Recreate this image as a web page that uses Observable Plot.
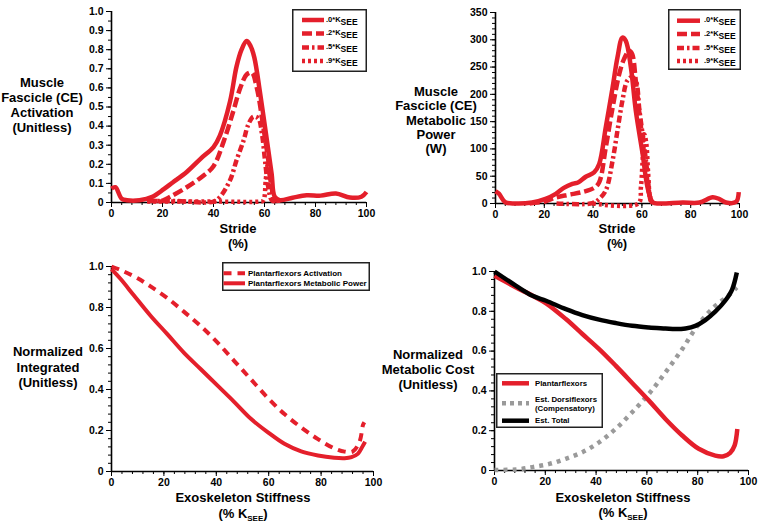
<!DOCTYPE html>
<html><head><meta charset="utf-8">
<script src="https://cdn.jsdelivr.net/npm/d3@7"></script>
<script src="https://cdn.jsdelivr.net/npm/@observablehq/plot@0.6"></script>
<style>
body{margin:0;background:#fff;}
#root{position:relative;width:764px;height:531px;overflow:hidden;font-family:"Liberation Sans",Arial,sans-serif;color:#000;background:#fff;}
.panel{position:absolute;}
.lbl{position:absolute;text-align:center;font-size:13px;font-weight:bold;white-space:nowrap;width:160px;}
.sub{font-size:8px;position:relative;top:3px;}
.leg{position:absolute;overflow:visible;}
</style>
</head><body><div id="root"></div>
<script>
// ---------- DATA ----------
// Panel A: muscle fascicle activation vs stride (%)
const act0 = [[0,0.073],[1.5,0.08],[4,0.02],[6,0.012],[11,0.012],[16,0.03],[20.5,0.07],[24,0.105],[29.5,0.16],[35,0.23],[40,0.29],[42.5,0.35],[46.5,0.53],[49,0.71],[51,0.8],[53,0.845],[54.5,0.82],[56,0.76],[58.3,0.57],[61,0.32],[62.8,0.15],[64,0.03],[66,0.012],[71,0.025],[76.5,0.038],[82,0.036],[88,0.047],[93.5,0.026],[98,0.03],[100,0.055]];
const act2 = [[14,0.01],[20,0.01],[23,0.03],[29.5,0.08],[36,0.14],[40,0.19],[44,0.32],[47.8,0.48],[50.5,0.6],[53,0.67],[55,0.68],[57,0.6],[59.6,0.39],[61.5,0.22],[62.8,0.08],[64,0.015],[66,0.012]];
const act5 = [[14,0.008],[25,0.008],[40,0.005],[42.6,0.03],[46.5,0.117],[49,0.22],[51.8,0.325],[53.7,0.41],[55.7,0.45],[57.6,0.44],[59,0.36],[60.2,0.22],[61.5,0.08],[63,0.01],[66,0.01]];
const act9 = [[14,0.005],[40,0.005],[58,0.005],[59.5,0.01],[60.5,0.12],[61.3,0.2],[62,0.15],[63,0.06],[64,0.01],[66,0.01]];
// Panel B: muscle fascicle metabolic power (W) vs stride (%)
const pow0 = [[0,22.5],[1.4,18],[4,2.4],[8,0],[15,1.8],[20.5,8.5],[24.7,17.7],[28,28.6],[31.5,36],[34,39],[37,49],[40.4,57],[42.5,72.5],[45.2,140],[48,213],[50,268],[52,304],[53.4,298],[55.5,249],[57.5,170],[60.3,91],[62.3,30],[64.4,2.4],[67,0],[76.7,1.8],[83.6,1.8],[89,11.6],[91.8,8],[94.5,1.8],[98.6,3],[99.7,20.7]];
const pow2 = [[14,0],[20.5,4],[24.7,11],[30,16],[35.6,21],[40.4,28.6],[42.5,39],[45.2,103],[48,176],[50.7,237],[52.7,265],[54.8,280],[56,274],[57.5,225],[59.6,140],[61.6,66],[63,18],[64.5,0]];
const pow5 = [[25,0],[39.7,0.6],[42.5,8.5],[45.2,24],[48,79],[50,134],[52,188],[54,225],[55.9,232],[57.5,225],[59,170],[61,103],[62.3,54],[63.7,5],[65,0]];
const pow9 = [[40,0],[58.5,0],[59.6,30],[60.3,79],[61,127],[61.8,110],[62.5,60],[63.3,10],[64,0]];
// Panel C: normalized integrated values vs exoskeleton stiffness (% KSEE)
const intAct = [[0,1.0],[4.7,0.976],[9.8,0.944],[14.9,0.903],[21.3,0.846],[27.6,0.78],[34,0.71],[40.4,0.63],[46.8,0.54],[53.2,0.45],[59.6,0.36],[66,0.28],[72.4,0.215],[78.8,0.158],[85,0.113],[89,0.097],[92,0.097],[94.6,0.142],[96,0.227],[96.5,0.24]];
const intPow = [[0,0.987],[3.4,0.94],[8.5,0.86],[14.9,0.76],[21.3,0.67],[27.6,0.58],[34,0.5],[40.4,0.42],[46.8,0.34],[53.2,0.257],[59.6,0.192],[66,0.135],[72.4,0.098],[78.8,0.078],[85,0.067],[89,0.065],[91.6,0.07],[94,0.086],[96,0.127],[96.8,0.145]];
// Panel D: normalized metabolic cost vs exoskeleton stiffness (% KSEE)
const costPlantar = [[0,0.978],[8.5,0.92],[15,0.878],[20.3,0.84],[28.1,0.761],[34.6,0.686],[41.2,0.61],[47.7,0.527],[54.2,0.44],[60.8,0.351],[67.3,0.259],[73.9,0.176],[80.4,0.109],[86.9,0.075],[90.2,0.072],[92.8,0.089],[94.5,0.125],[95.6,0.209]];
const costDorsi = [[0,0.003],[8.5,0.005],[15,0.017],[21.6,0.033],[28,0.059],[34.6,0.092],[41.2,0.142],[47.7,0.209],[54.2,0.293],[60.8,0.385],[67.3,0.493],[73.9,0.61],[80.4,0.736],[87,0.828],[92,0.878],[95.4,0.92]];
const costTotal = [[0,1.0],[8.5,0.928],[15,0.878],[20.3,0.853],[28.1,0.811],[34.6,0.781],[41.2,0.758],[47.7,0.741],[54.2,0.727],[60.8,0.719],[67.3,0.714],[71.2,0.711],[75.2,0.714],[79.1,0.727],[83,0.756],[86.9,0.798],[90.8,0.853],[93.5,0.908],[95.4,0.995]];
// tick values / labels
const xTicks = [0,20,40,60,80,100];
const xMinor = d3.range(0,101,4);
const yTicksA = d3.range(0,1.01,0.1);
const yMinorA = d3.range(0,1.001,0.05);
const yTicksB = d3.range(0,351,50);
const yMinorB = d3.range(0,351,10);
const yTicksC = [0,0.2,0.4,0.6,0.8,1.0];
const yMinorC = d3.range(0,1.001,0.04);
const stiffLabels = [".0*K", ".2*K", ".5*K", ".9*K"];

// ---------- STYLE ----------
const RED = "#e41f2b", GRAY = "#9a9a9a", BLACK = "#000";
const dashes = [null, "10,4", "7,3,2.5,3", "3,3"];
const fmt1 = d => d === 0 ? "0" : d.toFixed(1);

const root = document.getElementById("root");

function panel({left, top, width, height, m, xDom, yDom, yT, yM, yF, lines}) {
  const p = Plot.plot({
    width, height,
    marginLeft: m[0], marginRight: m[1], marginTop: m[2], marginBottom: m[3],
    style: {fontFamily: "Liberation Sans, Arial, sans-serif", fontSize: "10.5px", fontWeight: "bold", background: "transparent", overflow: "visible", color: "#000"},
    x: {domain: xDom, label: null},
    y: {domain: yDom, label: null},
    marks: [
      Plot.axisX({ticks: xMinor, tickSize: 3, tickFormat: () => "", label: null}),
      Plot.axisX({ticks: xTicks, tickSize: 5, tickPadding: 2, label: null}),
      Plot.axisY({ticks: yM, tickSize: 3, tickFormat: () => "", label: null}),
      Plot.axisY({ticks: yT, tickSize: 5, tickPadding: 3, tickFormat: yF, label: null}),
      Plot.ruleY([yDom[0]], {stroke: "#000", strokeWidth: 1.6}),
      Plot.ruleX([xDom[0]], {stroke: "#000", strokeWidth: 1.6}),
      ...lines.map(l => Plot.line(l.data, {x: d => d[0], y: d => d[1], stroke: l.color, strokeWidth: l.w,
        strokeDasharray: l.dash || undefined, strokeLinecap: "butt", curve: "catmull-rom"}))
    ]
  });
  p.classList.add("panel");
  p.style.left = left + "px";
  p.style.top = top + "px";
  root.appendChild(p);
}

panel({left: 0, top: 0, width: 382, height: 265, m: [111, 16, 11, 63], xDom: [0,100], yDom: [0,1], yT: yTicksA, yM: yMinorA, yF: fmt1,
  lines: [act0, act2, act5, act9].map((d,i) => ({data: d, color: RED, w: 4.5, dash: dashes[i]}))});
panel({left: 382, top: 0, width: 382, height: 265, m: [113, 25, 12, 62], xDom: [0,100], yDom: [0,350], yT: yTicksB, yM: yMinorB, yF: d => String(d),
  lines: [pow0, pow2, pow5, pow9].map((d,i) => ({data: d, color: RED, w: 4.5, dash: dashes[i]}))});
panel({left: 0, top: 265, width: 382, height: 266, m: [111, 9, 1, 60], xDom: [0,100], yDom: [0,1], yT: yTicksC, yM: yMinorC, yF: fmt1,
  lines: [{data: intAct, color: RED, w: 4, dash: "8,6"}, {data: intPow, color: RED, w: 4}]});
panel({left: 382, top: 265, width: 382, height: 266, m: [112, 16, 6, 61], xDom: [0,100], yDom: [0,1], yT: yTicksC, yM: yMinorC, yF: fmt1,
  lines: [{data: costDorsi, color: GRAY, w: 4.5, dash: "4,5"}, {data: costPlantar, color: RED, w: 4.5}, {data: costTotal, color: BLACK, w: 4.5}]});

// ---------- AXIS TITLES ----------
function label(html, cx, top, lh) {
  const d = document.createElement("div");
  d.className = "lbl";
  d.style.left = (cx - 80) + "px";
  d.style.top = top + "px";
  d.style.lineHeight = lh + "px";
  d.innerHTML = html;
  root.appendChild(d);
}
label("Muscle<br>Fascicle (CE)<br>Activation<br>(Unitless)", 42, 74.5, 15.3);
label("Muscle<br>Fascicle (CE)<br>Metabolic<br>Power<br>(W)", 436, 85, 14.3);
label("Normalized<br>Integrated<br>(Unitless)", 48, 344, 15.5);
label("Normalized<br>Metabolic Cost<br>(Unitless)", 428, 346.5, 15);
label("Stride<br>(%)", 238, 221, 15);
label("Stride<br>(%)", 617, 221, 15);
label("Exoskeleton Stiffness<br>(% K<span class='sub'>SEE</span>)", 243, 490, 16);
label("Exoskeleton Stiffness<br>(% K<span class='sub'>SEE</span>)", 623, 489.5, 15.5);

// ---------- LEGENDS ----------
function legend({left, top, w, h, x0, x1, tx, rows, fs}) {
  const svg = d3.create("svg").attr("class", "leg").attr("width", w).attr("height", h)
    .style("left", left + "px").style("top", top + "px");
  svg.append("rect").attr("x", 0.75).attr("y", 0.75).attr("width", w - 1.5).attr("height", h - 1.5)
    .attr("fill", "#fff").attr("stroke", "#222").attr("stroke-width", 1.5);
  for (const r of rows) {
    if (r.color) svg.append("line").attr("x1", x0).attr("x2", x1).attr("y1", r.ly).attr("y2", r.ly)
      .attr("stroke", r.color).attr("stroke-width", r.w || 4.5).attr("stroke-dasharray", r.dash || null);
    for (const t of r.texts) {
      const txt = svg.append("text").attr("x", tx).attr("y", t.y).attr("dy", "0.35em")
        .attr("font-family", "Liberation Sans, Arial, sans-serif").attr("font-weight", "bold").attr("font-size", fs);
      txt.append("tspan").text(t.s);
      if (t.sub) txt.append("tspan").attr("dy", 3).attr("font-size", fs + 1).text(t.sub);
    }
  }
  root.appendChild(svg.node());
}
legend({left: 292, top: 9, w: 75, h: 63, x0: 10, x1: 32, tx: 34, fs: 7.5,
  rows: stiffLabels.map((s,i) => ({color: RED, dash: dashes[i], ly: [11, 24.5, 38.5, 52][i], texts: [{s, sub: "SEE", y: [10, 23.5, 37.5, 51][i]}]}))});
legend({left: 668, top: 9, w: 73, h: 61, x0: 9, x1: 32, tx: 36, fs: 7.5,
  rows: stiffLabels.map((s,i) => ({color: RED, dash: dashes[i], ly: [11.7, 25, 39, 52][i], texts: [{s, sub: "SEE", y: [10.7, 24, 38, 51][i]}]}))});
legend({left: 222, top: 262, w: 148, h: 29, x0: 1.5, x1: 23, tx: 26, fs: 8,
  rows: [{color: RED, dash: "8,6", w: 4, ly: 11.3, texts: [{s: "Plantarflexors Activation", y: 11.3}]},
         {color: RED, w: 4, ly: 21.3, texts: [{s: "Plantarflexors Metabolic Power", y: 21.3}]}]});
legend({left: 496, top: 373, w: 107, h: 55, x0: 6, x1: 33, tx: 39, fs: 7.8,
  rows: [{color: RED, ly: 10.3, texts: [{s: "Plantarflexors", y: 10.3}]},
         {color: GRAY, dash: "4,4", ly: 30.3, texts: [{s: "Est. Dorsiflexors", y: 26.3}, {s: "(Compensatory)", y: 34.8}]},
         {color: BLACK, ly: 47.7, texts: [{s: "Est. Total", y: 47.7}]}]});
</script>
</body></html>
